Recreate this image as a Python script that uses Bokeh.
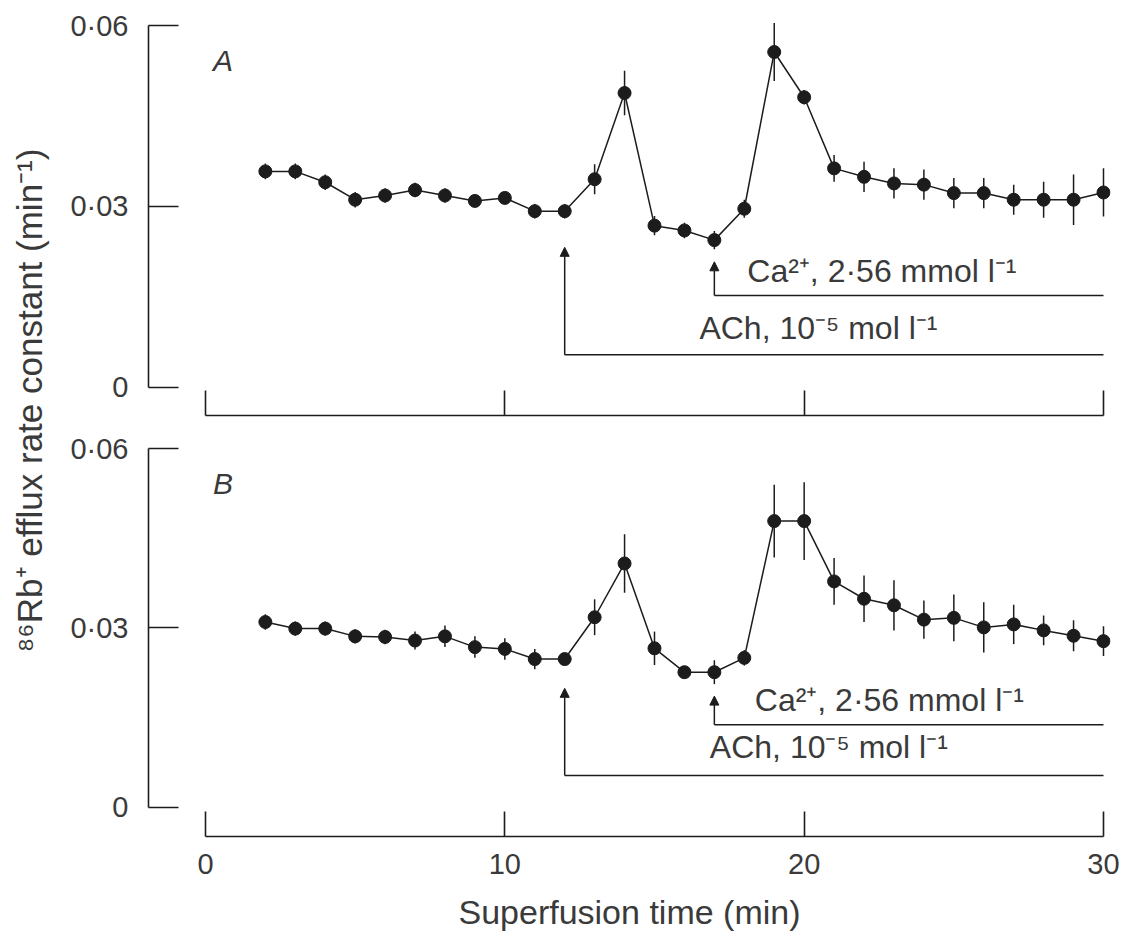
import math
from bokeh.plotting import figure
from bokeh.models import (FixedTicker, CustomJSTickFormatter, Arrow, NormalHead,
                          Label, Range1d)
from bokeh.layouts import row, column
from bokeh.embed import file_html
from bokeh.resources import INLINE
from bokeh.core.properties import value

# ---------------- data ----------------
time_min = [2, 3, 4, 5, 6, 7, 8, 9, 10, 11, 12, 13, 14, 15, 16,
            17, 18, 19, 20, 21, 22, 23, 24, 25, 26, 27, 28, 29, 30]

rate_A = [0.0358, 0.0358, 0.0340, 0.0311, 0.0318, 0.0327, 0.0318, 0.0309, 0.0314,
          0.0292, 0.0292, 0.0345, 0.0488, 0.0268, 0.0260, 0.0244, 0.0296, 0.0556,
          0.0481, 0.0363, 0.0349, 0.0338, 0.0336, 0.0322, 0.0322, 0.0311, 0.0311,
          0.0311, 0.0323]
err_A = [0.0013, 0.0013, 0.0013, 0.0013, 0.0012, 0.0012, 0.0012, 0.0008, 0.0008,
         0.0012, 0.0012, 0.0025, 0.0037, 0.0016, 0.0013, 0.0015, 0.0015, 0.0048,
         0.0012, 0.0022, 0.0025, 0.0025, 0.0025, 0.0025, 0.0025, 0.0025, 0.0030,
         0.0042, 0.0040]

rate_B = [0.0310, 0.0299, 0.0299, 0.0286, 0.0285, 0.0279, 0.0286, 0.0268, 0.0265,
          0.0248, 0.0248, 0.0318, 0.0408, 0.0266, 0.0226, 0.0226, 0.0250, 0.0479,
          0.0479, 0.0378, 0.0349, 0.0338, 0.0314, 0.0317, 0.0301, 0.0306, 0.0296,
          0.0287, 0.0278]
err_B = [0.0013, 0.0012, 0.0012, 0.0012, 0.0012, 0.0015, 0.0018, 0.0018, 0.0018,
         0.0017, 0.0008, 0.0030, 0.0049, 0.0028, 0.0010, 0.0020, 0.0013, 0.0061,
         0.0065, 0.0039, 0.0039, 0.0042, 0.0032, 0.0039, 0.0042, 0.0033, 0.0025,
         0.0026, 0.0025]

x_ticks = [0, 10, 20, 30]
y_ticks = [0, 0.03, 0.06]
ach_start = 12
ca_start = 17
t_end = 30

ach_text = "ACh, 10\u207b\u2075 mol l\u207b\u00b9"
ca_text = "Ca\u00b2\u207a, 2\u00b756 mmol l\u207b\u00b9"
y_title = "\u2078\u2076Rb\u207a efflux rate constant (min\u207b\u00b9)"
x_title = "Superfusion time (min)"

FONT = "Liberation Sans"
TXT = "#3a3a3a"
INK = "#1c1c1c"

y_fmt = CustomJSTickFormatter(code="""
    if (tick == 0) { return "0"; }
    return tick.toFixed(2).replace(".", "\u00b7");
""")


def make_panel(rate, err, letter, show_x, height, b_top, b_bottom, yr, ann):
    p = figure(width=1074, height=height, output_backend="svg", toolbar_location=None,
               x_range=Range1d(-1.904, 30.234), y_range=Range1d(*yr),
               min_border_left=88, min_border_right=24,
               min_border_top=b_top, min_border_bottom=b_bottom,
               background_fill_color="white", border_fill_color="white")
    p.outline_line_color = None
    p.xgrid.visible = False
    p.ygrid.visible = False

    # y axis
    ya = p.yaxis[0]
    ya.ticker = FixedTicker(ticks=y_ticks)
    ya.formatter = y_fmt
    ya.bounds = (0, 0.06)
    ya.major_tick_in = 30
    ya.major_tick_out = 0
    ya.minor_tick_line_color = None
    ya.axis_line_width = 1.6
    ya.major_tick_line_width = 1.6
    ya.axis_line_color = INK
    ya.major_tick_line_color = INK
    ya.major_label_standoff = 20
    ya.major_label_text_font = FONT
    ya.major_label_text_font_size = "29px"
    ya.major_label_text_color = TXT

    # x axis
    xa = p.xaxis[0]
    xa.ticker = FixedTicker(ticks=x_ticks)
    xa.bounds = (0, 30)
    xa.major_tick_in = 25
    xa.major_tick_out = 0
    xa.minor_tick_line_color = None
    xa.axis_line_width = 1.6
    xa.major_tick_line_width = 1.6
    xa.axis_line_color = INK
    xa.major_tick_line_color = INK
    if show_x:
        xa.major_label_standoff = 17
        xa.major_label_text_font = FONT
        xa.major_label_text_font_size = "29px"
        xa.major_label_text_color = TXT
        xa.axis_label = x_title
        xa.axis_label_standoff = 16
        xa.axis_label_text_font = FONT
        xa.axis_label_text_font_size = "34px"
        xa.axis_label_text_font_style = "normal"
        xa.axis_label_text_color = TXT
    else:
        xa.formatter = CustomJSTickFormatter(code="return '';")
        xa.major_label_standoff = 0

    # annotations (drug application bars)
    y_ach, y_ach_tip, y_ca, y_ca_tip, y_ca_txt, y_ach_txt, x_ca_txt, x_ach_txt = ann
    p.line([ach_start, t_end], [y_ach, y_ach], line_color=INK, line_width=1.5)
    p.line([ca_start, t_end], [y_ca, y_ca], line_color=INK, line_width=1.5)
    p.add_layout(Arrow(end=NormalHead(size=9, fill_color=INK, line_color=INK, line_width=1),
                       x_start=ach_start, y_start=y_ach, x_end=ach_start, y_end=y_ach_tip,
                       line_color=INK, line_width=1.5))
    p.add_layout(Arrow(end=NormalHead(size=9, fill_color=INK, line_color=INK, line_width=1),
                       x_start=ca_start, y_start=y_ca, x_end=ca_start, y_end=y_ca_tip,
                       line_color=INK, line_width=1.5))
    p.add_layout(Label(x=x_ca_txt, y=y_ca_txt, text=ca_text, text_font=FONT,
                       text_font_size="32px", text_color=TXT, text_baseline="middle"))
    p.add_layout(Label(x=x_ach_txt, y=y_ach_txt, text=ach_text, text_font=FONT,
                       text_font_size="32px", text_color=TXT, text_baseline="middle"))

    # panel letter
    p.add_layout(Label(x=0.25, y=0.0542, text=letter, text_font=FONT,
                       text_font_size="30px", text_font_style="italic",
                       text_color=TXT, text_baseline="middle"))

    # data
    lo = [r - e for r, e in zip(rate, err)]
    hi = [r + e for r, e in zip(rate, err)]
    p.segment(x0=time_min, y0=lo, x1=time_min, y1=hi, line_color=INK, line_width=1.5)
    p.line(time_min, rate, line_color=INK, line_width=1.5)
    p.scatter(time_min, rate, size=13, marker="circle", fill_color=INK, line_color=INK)
    return p


pA = make_panel(rate_A, err_A, "A", False, 432, 15, 17, (-0.004695, 0.061659),
                (0.0054, 0.0232, 0.0152, 0.0208, 0.0193, 0.0099, 18.1, 16.5))
pB = make_panel(rate_B, err_B, "B", True, 505, 6, 101, (-0.004905, 0.061724),
                (0.0053, 0.0199, 0.0138, 0.0186, 0.0179, 0.0100, 18.35, 16.85))

# shared y-axis title
pL = figure(width=60, height=937, output_backend="svg", toolbar_location=None,
            x_range=Range1d(0, 60), y_range=Range1d(0, 937),
            min_border=0, background_fill_color="white", border_fill_color="white")
pL.outline_line_color = None
pL.axis.visible = False
pL.grid.visible = False
pL.text(x=[29], y=[537], text=[y_title], angle=math.pi / 2,
        text_align="center", text_baseline="middle",
        text_font=value(FONT), text_font_size="35px", text_color=TXT)

layout = row(pL, column(pA, pB))
open("out.html", "w").write(file_html(layout, INLINE))
